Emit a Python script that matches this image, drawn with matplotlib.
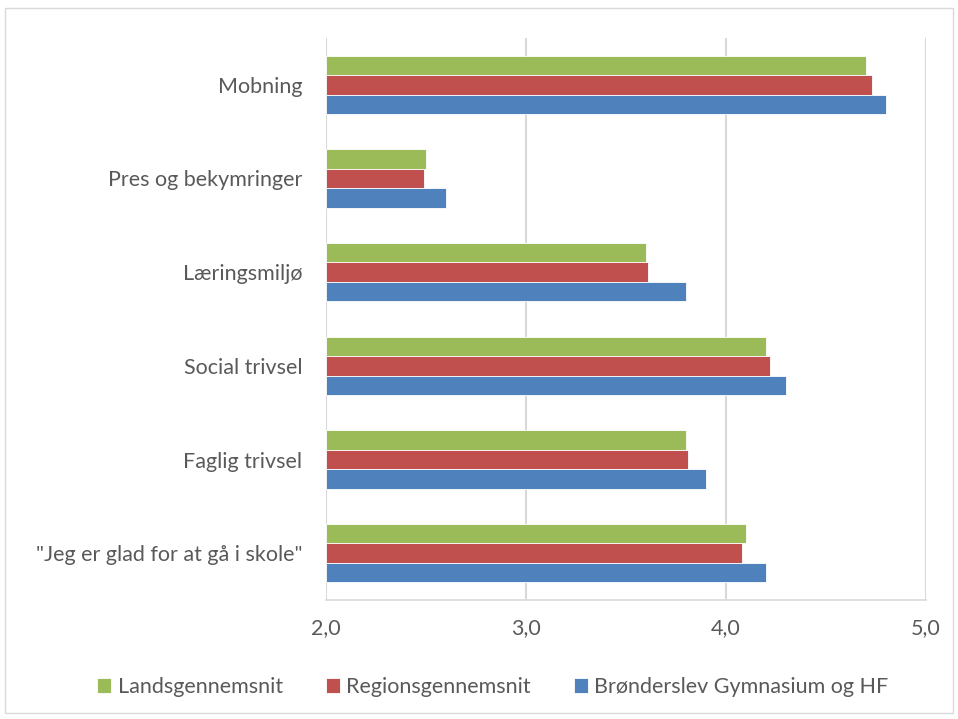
import matplotlib.pyplot as plt
import numpy as np
from matplotlib.patches import Rectangle

plt.rcParams['font.family'] = ['Lato', 'DejaVu Sans']

categories = ['Mobning', 'Pres og bekymringer', 'Læringsmiljø', 'Social trivsel',
              'Faglig trivsel', '"Jeg er glad for at gå i skole"']
lands = [4.70, 2.50, 3.60, 4.20, 3.80, 4.10]
region = [4.73, 2.49, 3.61, 4.22, 3.81, 4.08]
bronderslev = [4.80, 2.60, 3.80, 4.30, 3.90, 4.20]
series_names = ['Landsgennemsnit', 'Regionsgennemsnit', 'Brønderslev Gymnasium og HF']
colors = ['#9BBB59', '#C0504D', '#4F81BD']
text_col = '#595959'

fig = plt.figure(figsize=(9.58, 7.19), dpi=100)
fig.patches.append(Rectangle((5 / 958, 1 - 713 / 719), 948 / 958, 705 / 719,
                             transform=fig.transFigure, fill=False,
                             edgecolor='#D9D9D9', linewidth=1))
ax = fig.add_axes([326 / 958, 1 - 600 / 719, 600 / 958, 562 / 719])

y = np.arange(len(categories))[::-1]
h = 0.207
for i, (vals, name, c) in enumerate(zip([lands, region, bronderslev], series_names, colors)):
    ax.barh(y + h - i * h, [v - 2 for v in vals], left=2, height=h, color=c,
            edgecolor='white', linewidth=0.6, label=name, zorder=3)

ax.set_xlim(2, 5)
ax.set_ylim(-0.5, len(categories) - 0.5)
ax.set_xticks([2, 3, 4, 5])
ax.set_xticklabels(['2,0', '3,0', '4,0', '5,0'])
ax.set_yticks(y)
ax.set_yticklabels(categories)
ax.grid(axis='x', color='#D9D9D9', linewidth=1.5, zorder=0)
for s in ['top', 'right', 'left']:
    ax.spines[s].set_visible(False)
ax.spines['bottom'].set_color('#D9D9D9')
ax.spines['bottom'].set_linewidth(1.2)
ax.tick_params(axis='both', length=0, labelsize=15.5, colors=text_col)
ax.tick_params(axis='y', pad=17)
ax.tick_params(axis='x', pad=13)

fig.legend(loc='center', bbox_to_anchor=(493 / 958, 1 - 687 / 719), ncol=3, frameon=False,
           fontsize=15.5, labelcolor=text_col, handlelength=0.65, handleheight=0.65,
           handletextpad=0.3, columnspacing=2.0)

fig.savefig('out.png', dpi=100)
